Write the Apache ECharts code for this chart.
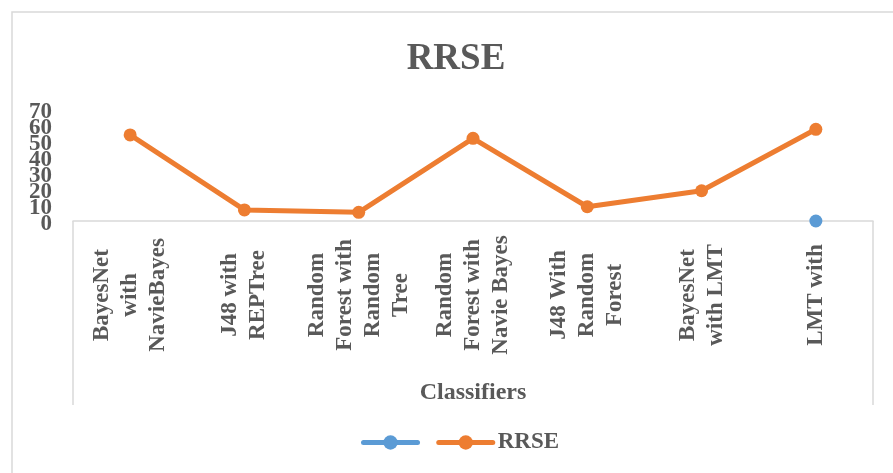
<!DOCTYPE html>
<html>
<head>
<meta charset="utf-8">
<title>RRSE</title>
<script src="https://cdn.jsdelivr.net/npm/echarts@6/dist/echarts.min.js"></script>
<style>
  html, body { margin: 0; padding: 0; background: #fff; }
  #chart { width: 893px; height: 473px; }
</style>
</head>
<body>
<div id="chart"></div>
<script>
const classifiers = [
  'BayesNet\nwith\nNavieBayes',
  'J48 with\nREPTree',
  'Random\nForest with\nRandom\nTree',
  'Random\nForest with\nNavie Bayes',
  'J48 With\nRandom\nForest',
  'BayesNet\nwith LMT',
  'LMT with'
]
const rrse = [53.8, 6.9, 5.4, 51.7, 8.9, 18.9, 57.3]
const blankSeries = [null, null, null, null, null, null, 0]
const yTicks = [0, 10, 20, 30, 40, 50, 60, 70]

const chart = echarts.init(document.getElementById('chart'))
const font = '"Liberation Serif", "Times New Roman", serif'
const gray = '#595959'
const frame = '#d9d9d9'

// the tick labels are packed so tightly that they overlap; split them over two
// stacked axes so none of them gets hidden
const yAxisFor = (even) => ({
  type: 'value',
  position: 'left',
  min: yTicks[0],
  max: yTicks[yTicks.length - 1],
  interval: 10,
  axisLine: { show: false },
  axisTick: { show: false },
  splitLine: { show: false },
  axisLabel: {
    margin: 21,
    showMinLabel: true,
    showMaxLabel: true,
    verticalAlign: 'top',
    lineHeight: 7,
    formatter: (v) => (yTicks.indexOf(v) % 2 === 0) === even ? String(v) : '',
    fontFamily: font,
    fontSize: 23,
    fontWeight: 'bold',
    color: gray
  }
})

const option = {
  backgroundColor: '#fff',
  animation: false,
  title: {
    text: 'RRSE',
    left: 451,
    top: 36,
    textAlign: 'center',
    textStyle: {
      fontFamily: font,
      fontSize: 37,
      fontWeight: 'bold',
      color: gray
    }
  },
  legend: {
    left: 356,
    top: 426,
    itemWidth: 54,
    itemHeight: 18,
    itemGap: 8,
    data: [' ', 'RRSE'],
    lineStyle: { width: 5, cap: 'round' },
    textStyle: {
      fontFamily: font,
      fontSize: 23,
      fontWeight: 'bold',
      color: gray
    }
  },
  grid: {
    left: 73,
    right: 20,
    top: 109,
    bottom: 252
  },
  xAxis: {
    type: 'category',
    data: classifiers,
    name: 'Classifiers',
    nameLocation: 'middle',
    nameGap: 160,
    nameTextStyle: {
      fontFamily: font,
      fontSize: 24,
      fontWeight: 'bold',
      color: gray
    },
    axisLine: {
      lineStyle: { color: frame, width: 1.5 }
    },
    axisTick: { show: false },
    axisLabel: {
      interval: 0,
      rotate: 90,
      align: 'center',
      margin: 74,
      lineHeight: 28,
      fontFamily: font,
      fontSize: 23,
      fontWeight: 'bold',
      color: gray
    }
  },
  yAxis: [yAxisFor(true), yAxisFor(false)],
  series: [
    {
      name: ' ',
      type: 'line',
      data: blankSeries,
      symbol: 'circle',
      symbolSize: 13,
      itemStyle: { color: '#5b9bd5' },
      lineStyle: { width: 5, color: '#5b9bd5' }
    },
    {
      name: 'RRSE',
      type: 'line',
      data: rrse,
      symbol: 'circle',
      symbolSize: 13,
      itemStyle: { color: '#ed7d31' },
      lineStyle: { width: 5, color: '#ed7d31' }
    }
  ],
  graphic: [
    {
      type: 'rect',
      shape: { x: 12, y: 12, width: 900, height: 500 },
      style: { fill: 'none', stroke: frame, lineWidth: 1.5 },
      silent: true
    },
    {
      type: 'line',
      shape: { x1: 73, y1: 221, x2: 73, y2: 405 },
      style: { stroke: frame, lineWidth: 1.5 },
      silent: true
    },
    {
      type: 'line',
      shape: { x1: 873, y1: 221, x2: 873, y2: 405 },
      style: { stroke: frame, lineWidth: 1.5 },
      silent: true
    }
  ]
}

chart.setOption(option)
</script>
</body>
</html>
